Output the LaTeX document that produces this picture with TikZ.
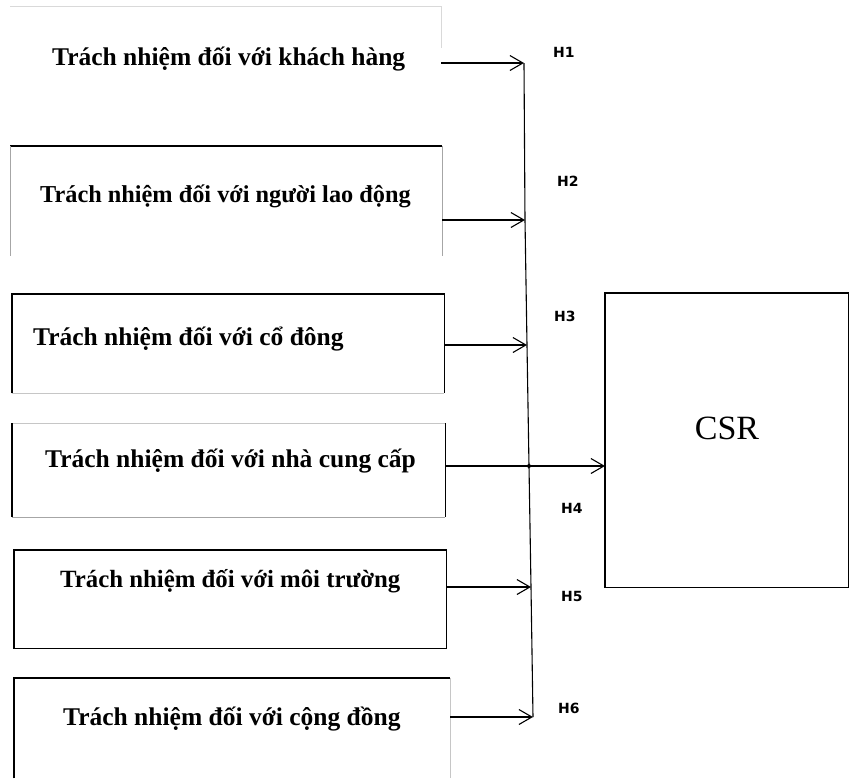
\documentclass[tikz,border=0pt]{standalone}
\usepackage{fontspec}
\setmainfont{Liberation Serif}
\newfontfamily\hfont{DejaVu Sans}
\usetikzlibrary{arrows.meta}
\begin{document}
\begin{tikzpicture}[x=1pt,y=-1pt,
  boxarea/.style={draw=none,inner sep=0pt,anchor=north west},
  boxtext/.style={anchor=base west,inner sep=0pt,font=\fontsize{25.5}{28}\selectfont\bfseries},
  hlabel/.style={anchor=base west,inner sep=0pt,font=\hfont\fontsize{14}{16}\selectfont\bfseries},
  edge/.style={line width=1.4pt,black},
  faint/.style={line width=1pt,gray!45},
  arr/.style={line width=1.3pt,-{Straight Barb[length=13pt,width=15pt,line width=1.1pt]}}]
\useasboundingbox (0,0) rectangle (855,780);
% box areas
\node[boxarea,minimum width=431pt,minimum height=114pt] (b1) at (10,6) {};
\node[boxarea,minimum width=432pt,minimum height=110pt] (b2) at (10,146) {};
\node[boxarea,minimum width=432pt,minimum height=99pt] (b3) at (12,294) {};
\node[boxarea,minimum width=433pt,minimum height=94pt] (b4) at (12,423) {};
\node[boxarea,minimum width=432pt,minimum height=98pt] (b5) at (14,550) {};
\node[boxarea,minimum width=436pt,minimum height=100pt] (b6) at (14,678) {};
\node[boxarea,minimum width=243pt,minimum height=294pt] (csr) at (605,293) {};
% box edges
\draw[faint,gray!30] (b1.north west) -- (b1.north east) -- ([yshift=-42pt]b1.north east);
\draw[edge] (b2.north west) -- (b2.north east);
\draw[faint,gray!70] (b2.north west) -- (b2.south west);
\draw[faint,gray!70] (b2.north east) -- (b2.south east);
\draw[edge] (b3.south west) -- (b3.north west) -- (b3.north east) -- (b3.south east);
\draw[faint] (b3.south west) -- (b3.south east);
\draw[faint] (b4.north west) -- (b4.north east);
\draw[edge] (b4.north west) -- (b4.south west);
\draw[edge] (b4.north east) -- (b4.south east);
\draw[faint,gray!70] (b4.south west) -- (b4.south east);
\draw[edge] (b5.north west) rectangle (b5.south east);
\draw[edge] (b6.south west) -- (b6.north west) -- (b6.north east);
\draw[faint] (b6.north east) -- (b6.south east);
\draw[edge,line width=1.2pt] (csr.north west) rectangle (csr.south east);
% texts
\node[boxtext] (t1) at (52,65) {Trách nhiệm đối với khách hàng};
\node[boxtext,font=\fontsize{24.3}{27}\selectfont\bfseries] (t2) at (40,202) {Trách nhiệm đối với người lao động};
\node[boxtext] (t3) at (33,345) {Trách nhiệm đối với cổ đông};
\node[boxtext] (t4) at (45,467) {Trách nhiệm đối với nhà cung cấp};
\node[boxtext,font=\fontsize{24.8}{27}\selectfont\bfseries] (t5) at (60,587) {Trách nhiệm đối với môi trường};
\node[boxtext] (t6) at (63,725) {Trách nhiệm đối với cộng đồng};
\node[font=\fontsize{34}{38}\selectfont] (csrt) at (727,428) {CSR};
% bus
\coordinate (j1) at (524,63);
\coordinate (j2) at (525,220);
\coordinate (j3) at (527,345);
\coordinate (j4) at (529,466);
\coordinate (j5) at (531,587);
\coordinate (j6) at (533,717);
\draw[line width=1.1pt] (j1) -- (j2) -- (j3) -- (j4) -- (j5) -- (j6);
\draw[arr] (b1.east |- j1) -- (j1);
\draw[arr] (b2.east |- j2) -- (j2);
\draw[arr] (b3.east |- j3) -- (j3);
\draw[arr] (b4.east |- j4) -- (csr.west |- j4);
\draw[arr] (b5.east |- j5) -- (j5);
\draw[arr] (b6.east |- j6) -- (j6);
\fill (j4) circle (2pt);
% labels
\node[hlabel] (h1) at (553,57) {H1};
\node[hlabel] (h2) at (557,186) {H2};
\node[hlabel] (h3) at (554,321) {H3};
\node[hlabel] (h4) at (561,513) {H4};
\node[hlabel] (h5) at (561,601) {H5};
\node[hlabel] (h6) at (558,713) {H6};
\end{tikzpicture}
\end{document}
